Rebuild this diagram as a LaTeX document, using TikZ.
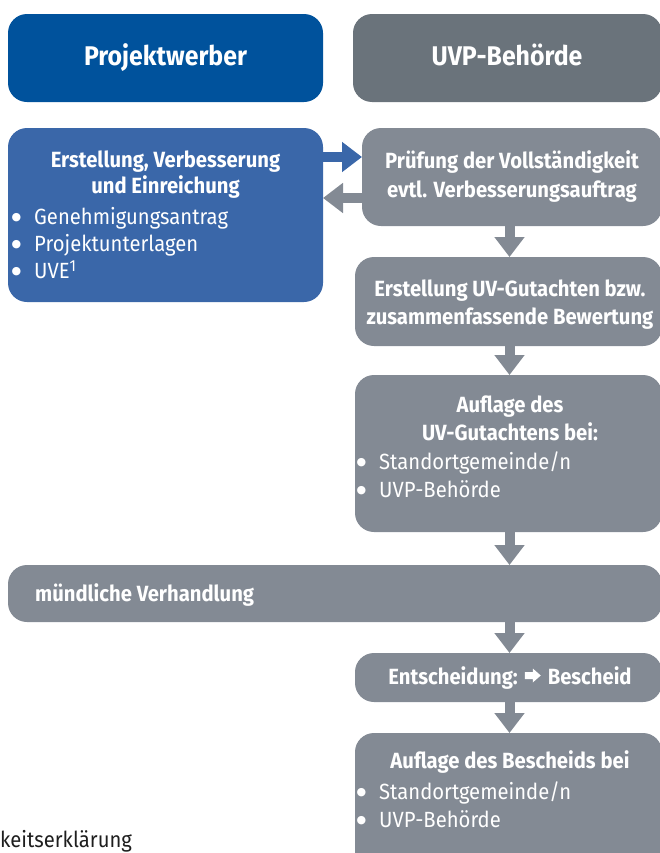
\documentclass[tikz,border=0pt]{standalone}
\usepackage{fontspec}
\setmainfont{Fira Sans}[FakeStretch=0.92]
\newfontfamily\symfont{DejaVu Sans}
\usetikzlibrary{arrows.meta}

\definecolor{hdrblue}{HTML}{00529C}
\definecolor{boxblue}{HTML}{3A67A9}
\definecolor{hdrgray}{HTML}{6A737B}
\definecolor{boxgray}{HTML}{838A94}
\definecolor{notegray}{HTML}{1E1E1E}

% list bullet with a fixed indent
\newcommand\bul{\makebox[25bp][l]{\hspace{2.5bp}\raisebox{4bp}{\symfont\fontsize{11bp}{11bp}\selectfont ●}}}
% footnote mark
\newcommand\fnmark[1]{\raisebox{6.5bp}{\fontsize{16bp}{16bp}\selectfont #1}}
% small solid arrow used inside a line of text
\newcommand\heavyarrow{\tikz[baseline=0pt]\fill[white] (0bp,5bp) -- (8bp,5bp) -- (8bp,1.5bp)
  -- (16bp,8.5bp) -- (8bp,15.5bp) -- (8bp,12bp) -- (0bp,12bp) -- cycle;}

\tikzset{
  panel/.style={rounded corners=19bp, inner sep=0pt, outer sep=0pt, anchor=north west},
  blockarrow/.style={line width=10bp, -{Triangle[width=29bp,length=20bp]}},
  hdtext/.style={text=white, inner sep=0pt, anchor=base,
    font=\fontsize{27bp}{32bp}\selectfont\bfseries},
  bodybold/.style={text=white, inner sep=0pt, anchor=base,
    font=\fontsize{22bp}{28bp}\selectfont\bfseries},
  bodyreg/.style={text=white, inner sep=0pt, anchor=base west,
    font=\fontsize{22bp}{28bp}\selectfont},
}

\begin{document}
\begin{tikzpicture}[x=1bp,y=-1bp]
  \useasboundingbox (0,0) rectangle (660,853);
  \clip (0,0) rectangle (660,853);

  % column headers
  \node[panel, fill=hdrblue, minimum width=315bp, minimum height=88bp] (hdrL) at (8,14) {};
  \node[panel, fill=hdrgray, minimum width=309bp, minimum height=88bp] (hdrR) at (353,14) {};
  \node[hdtext] (tL) at (165.5,65) {Projektwerber};
  \node[hdtext] (tR) at (507,65) {UVP-Behörde};

  % process panels
  \node[panel, fill=boxblue, minimum width=315bp, minimum height=174bp] (einr) at (8,128) {};
  \node[panel, fill=boxgray, minimum width=300bp, minimum height=98bp]  (pruef) at (362,128) {};
  \node[panel, fill=boxgray, minimum width=307bp, minimum height=89bp]  (gutacht) at (355,257) {};
  \node[panel, fill=boxgray, minimum width=307bp, minimum height=157bp] (aufl) at (355,375) {};
  \node[panel, fill=boxgray, minimum width=654bp, minimum height=57bp]  (verh) at (8,565) {};
  \node[panel, fill=boxgray, minimum width=307bp, minimum height=49bp]  (entsch) at (355,653) {};
  \node[panel, fill=boxgray, minimum width=307bp, minimum height=150bp] (besch) at (355,733) {};

  % connectors
  \coordinate (axis) at (509.5,0);
  \coordinate (fwd) at (0,157);
  \coordinate (back) at (0,198);
  \draw[blockarrow, boxblue] (einr.east |- fwd) -- (pruef.west |- fwd);
  \draw[blockarrow, boxgray] (pruef.west |- back) -- (einr.east |- back);
  \draw[blockarrow, boxgray] (pruef.south -| axis) -- (gutacht.north -| axis);
  \draw[blockarrow, boxgray] (gutacht.south -| axis) -- (aufl.north -| axis);
  \draw[blockarrow, boxgray] (aufl.south -| axis) -- (verh.north -| axis);
  \draw[blockarrow, boxgray] (verh.south -| axis) -- (entsch.north -| axis);
  \draw[blockarrow, boxgray] (entsch.south -| axis) -- (besch.north -| axis);

  % texts: applicant
  \node[bodybold] (e1) at (165.5,167) {Erstellung, Verbesserung};
  \node[bodybold] (e2) at (165.5,193) {und Einreichung};
  \node[bodyreg] (e3) at (9,224) {\bul Genehmigungsantrag};
  \node[bodyreg] (e4) at (9,251) {\bul Projektunterlagen};
  \node[bodyreg] (e5) at (9,278) {\bul UVE\fnmark{1}};

  % texts: authority
  \node[bodybold] (p1) at (512,168) {Prüfung der Vollständigkeit};
  \node[bodybold] (p2) at (512,197) {evtl. Verbesserungsauftrag};
  \node[bodybold] (g1) at (510,296) {Erstellung UV-Gutachten bzw.};
  \node[bodybold] (g2) at (510,324) {zusammenfassende Bewertung};
  \node[bodybold] (a1) at (510,412) {Auflage des};
  \node[bodybold] (a2) at (510,440) {UV-Gutachtens bei:};
  \node[bodyreg] (a3) at (354,469) {\bul Standortgemeinde/n};
  \node[bodyreg] (a4) at (354,497) {\bul UVP-Behörde};
  \node[bodybold, anchor=base west] (v1) at (35,601) {mündliche Verhandlung};
  \node[bodybold] (d1) at (510,684) {Entscheidung:\hspace{7bp}\heavyarrow\hspace{7bp}Bescheid};
  \node[bodybold] (b1) at (510,768) {Auflage des Bescheids bei};
  \node[bodyreg] (b2) at (354,799) {\bul Standortgemeinde/n};
  \node[bodyreg] (b3) at (354,827) {\bul UVP-Behörde};

  % footnote
  \node[bodyreg, text=notegray] (fn) at (0,847) {keitserklärung};
\end{tikzpicture}
\end{document}
